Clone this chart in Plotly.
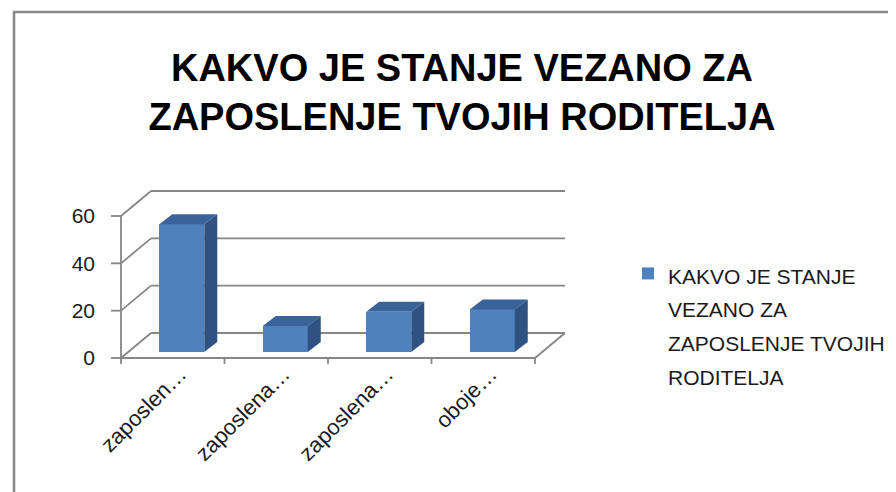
import plotly.graph_objects as go

# ---- data ----
categories = ["zaposlen…", "zaposlena…", "zaposlena…", "oboje…"]
values = [54, 11, 17, 18]
title_text = "KAKVO JE STANJE VEZANO ZA<br>ZAPOSLENJE TVOJIH RODITELJA"
legend_lines = ["KAKVO JE STANJE", "VEZANO ZA", "ZAPOSLENJE TVOJIH", "RODITELJA"]
y_ticks = [0, 20, 40, 60]

# ---- geometry (page pixels; the page body adds an 8px offset) ----
OFF = 8
W, H = 896 - OFF, 492 - OFF
PXX = 103.5       # px per category unit
PXY = 2.3667      # px per value unit
FRONT_X0 = 121    # page px of x=-0.5 on front plane
FRONT_Y0 = 358    # page px of y=0 on front plane
L, R, T, B = 106, 570, 186, 366   # plot area, page px

xr = [-0.5 - (FRONT_X0 - L) / PXX, -0.5 + (R - FRONT_X0) / PXX]
yr = [-(B - FRONT_Y0) / PXY, (FRONT_Y0 - T) / PXY]

DX, DY = 30 / PXX, 25 / PXY          # wall depth
FX, FY = 9 / PXX, 6 / PXY            # bar front offset
SX, SY = 13 / PXX, 10 / PXY          # bar depth
BW = 45 / PXX                        # bar width

GRID = "#868686"
FRONT = "#4F81BD"
TOP = "#3A6399"
SIDE = "#2F5282"

shapes = []
def line(x0, y0, x1, y1, color=GRID, w=1.8, layer="below"):
    shapes.append(dict(type="line", xref="x", yref="y", x0=x0, y0=y0, x1=x1, y1=y1,
                       line=dict(color=color, width=w), layer=layer))

# back wall gridlines and left-wall diagonals
for v in y_ticks:
    line(-0.5, v, -0.5 + DX, v + DY)
    line(-0.5 + DX, v + DY, 3.5 + DX, v + DY)
# floor front and right edges
line(-0.5, 0, 3.5, 0)
line(3.5, 0, 3.5 + DX, DY)
# front value axis with ticks
line(-0.5, 0, -0.5, 60)
for v in y_ticks:
    line(-0.5 - 10 / PXX, v, -0.5, v)
for b in [-0.5, 0.5, 1.5, 2.5, 3.5]:
    line(b, 0, b, -6 / PXY)

# 3D faces of bars
xs = [i + FX for i in range(len(values))]
for xc, v in zip(xs, values):
    x0, x1 = xc - BW / 2, xc + BW / 2
    top = FY + v
    shapes.append(dict(type="path", xref="x", yref="y", layer="above",
                       path=f"M{x0},{top} L{x1},{top} L{x1+SX},{top+SY} L{x0+SX},{top+SY} Z",
                       fillcolor=TOP, line=dict(width=0)))
    shapes.append(dict(type="path", xref="x", yref="y", layer="above",
                       path=f"M{x1},{FY} L{x1},{top} L{x1+SX},{top+SY} L{x1+SX},{FY+SY} Z",
                       fillcolor=SIDE, line=dict(width=0)))

# chart border (outer frame, runs off the image)
shapes.append(dict(type="rect", xref="paper", yref="paper",
                   x0=(14 - L) / (R - L), x1=(910 - L) / (R - L),
                   y0=(B - 510) / (B - T), y1=(B - 12) / (B - T),
                   line=dict(color="#878787", width=2.5), fillcolor="rgba(0,0,0,0)", layer="below"))

legend_name = "<br>".join(f'<span style="font-size:21px">{s}</span>' for s in legend_lines)

fig = go.Figure()
fig.add_trace(go.Bar(
    x=xs, y=values, base=FY, width=BW, name=legend_name,
    marker=dict(color=FRONT, line=dict(width=0)), showlegend=True,
))

fig.update_layout(
    width=W, height=H,
    margin=dict(l=L - OFF, r=896 - R, t=T - OFF, b=492 - B, autoexpand=False),
    paper_bgcolor="white", plot_bgcolor="rgba(0,0,0,0)",
    font=dict(family="Liberation Sans, Arial, sans-serif", color="#1a1a1a"),
    title=dict(text=title_text, x=(462 - OFF) / W, xanchor="center", xref="container",
               y=1 - 73 / H, yanchor="top", yref="container",
               font=dict(size=38, family="Liberation Sans, Arial, sans-serif", color="black", weight="bold")),
    xaxis=dict(range=xr, showgrid=False, zeroline=False, showline=False, ticks="",
               tickvals=[i + 0.07 for i in range(len(categories))], ticktext=categories,
               tickangle=-45, tickfont=dict(size=22, color="#1a1a1a"), ticklabelstandoff=-10),
    yaxis=dict(range=yr, showgrid=False, zeroline=False, showline=False, ticks="",
               tickvals=y_ticks, tickfont=dict(size=21, color="#1a1a1a"), ticklabelstandoff=10),
    showlegend=True,
    legend=dict(x=(628 - OFF) / W, y=1 - (250 - OFF) / H, xref="container", yref="container",
                xanchor="left", yanchor="top", valign="top",
                font=dict(size=26, color="#1a1a1a"), bgcolor="rgba(0,0,0,0)"),
    shapes=shapes,
    bargap=0,
)

fig.write_html("out.html")
